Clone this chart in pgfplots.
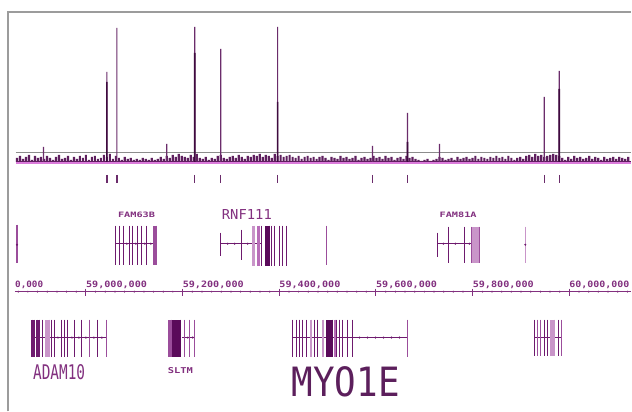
\documentclass[border=0pt]{standalone}
\usepackage{pgfplots}
\pgfplotsset{compat=1.18}
\usepackage{fontspec}
\usepackage{graphicx}
\newfontfamily\mono{DejaVu Sans Mono}
\definecolor{frameC}{HTML}{9C9C9C}
\definecolor{grayC}{HTML}{8C8C8C}
\definecolor{pinkC}{HTML}{DA7ADA}
\definecolor{noiseC}{HTML}{5E1E5E}
\definecolor{peakC}{HTML}{6B2C6B}
\definecolor{peakD}{HTML}{3F0A3F}
\definecolor{gDark}{HTML}{6E1A6E}
\definecolor{gDeep}{HTML}{5A0A5A}
\definecolor{gMid}{HTML}{9B4D9B}
\definecolor{gPink}{HTML}{B86CB8}
\definecolor{gLight}{HTML}{C995C9}
\definecolor{txtC}{HTML}{82307F}
\definecolor{txtD}{HTML}{5C1F5C}
\begin{document}
\begin{tikzpicture}
% ---------------- main frame: gene tracks, ruler, labels (pixel rows) ----------------
\begin{axis}[at={(0pt,0pt)}, anchor=south west, width=632pt, height=412pt, scale only axis,
  xmin=0, xmax=632, ymin=0, ymax=412, y dir=reverse, hide axis, clip=true,
  unbounded coords=jump]
\addplot[fill=white, draw=none] coordinates {(0,0)(632,0)(632,412)(0,412)(0,0)};
\addplot[frameC, line width=2.2pt] coordinates {(8,412)(8,12)(632,12)};
% peak call ticks
\addplot[peakC, line width=1.3pt] coordinates {(107,175)(107,183)(107,nan)(117,175)(117,183)(117,nan)(195,175)(195,183)(195,nan)(221,175)(221,183)(221,nan)(278,175)(278,183)(278,nan)(373,175)(373,183)(373,nan)(408,175)(408,183)(408,nan)(545,175)(545,183)(545,nan)(560,175)(560,183)(560,nan)};
% ---- upper gene track: introns
\addplot[gDark, line width=0.8pt] coordinates {(116,244)(157,244)(116,nan)(221,244)(262,244)(221,nan)(438,244)(480,244)};
\addplot[only marks, mark=*, mark size=0.8pt, gDark] coordinates {(17,245)(127,244)(136,244)(145,244)(151,244)(228,244)(235,244)(248,244)(444,244)(456,244)(470,244)(526,245)};
% thin exons
\addplot[gDark, line width=1.1pt] coordinates {(116,226)(116,265)(116,nan)(120,226)(120,265)(120,nan)(124,226)(124,265)(124,nan)(130,226)(130,265)(130,nan)(133,226)(133,265)(133,nan)(138,226)(138,265)(138,nan)(142,226)(142,265)(142,nan)(147,226)(147,265)(147,nan)(262,226)(262,266)(262,nan)(272,226)(272,266)(272,nan)(275,226)(275,266)(275,nan)(280,226)(280,266)(280,nan)(283,226)(283,266)(283,nan)(287,226)(287,266)(287,nan)(449,227)(449,263)(449,nan)(465,227)(465,263)(465,nan)(242,230)(242,260)(242,nan)(221,233)(221,256)(221,nan)(438,233)(438,257)(438,nan)};
\addplot[gMid, line width=1.1pt] coordinates {(17,225)(17,263)(17,nan)(327,226)(327,265)(327,nan)};
\addplot[gLight, line width=1.4pt] coordinates {(526,227)(526,263)};
% thick exons
\addplot[gMid, line width=4pt] coordinates {(155,226)(155,265)};
\addplot[gLight, line width=3pt] coordinates {(253.5,226)(253.5,266)};
\addplot[gPink, line width=3pt] coordinates {(258.5,226)(258.5,266)};
\addplot[gDeep, line width=5pt] coordinates {(267.5,226)(267.5,266)};
\addplot[gLight, line width=7pt] coordinates {(476,227)(476,263)};
\addplot[gMid, line width=1.1pt] coordinates {(472,227)(472,263)(472,nan)(480,227)(480,263)};
% ---- ruler
\addplot[txtC, line width=1.2pt] coordinates {(15,292)(632,292)};
\addplot[txtC, line width=1.1pt] coordinates {(86,289)(86,296)(86,nan)(182.8,289)(182.8,296)(182.8,nan)(279.6,289)(279.6,296)(279.6,nan)(376.4,289)(376.4,296)(376.4,nan)(473.2,289)(473.2,296)(473.2,nan)(570,289)(570,296)};
\addplot[only marks, mark=*, mark size=0.7pt, txtC] coordinates {(18.2,292)(27.9,292)(37.6,292)(47.3,292)(57.0,292)(66.6,292)(76.3,292)(95.7,292)(105.4,292)(115.1,292)(124.7,292)(134.4,292)(144.1,292)(153.8,292)(163.5,292)(173.1,292)(192.5,292)(202.2,292)(211.9,292)(221.6,292)(231.3,292)(240.9,292)(250.6,292)(260.3,292)(270.0,292)(289.3,292)(299.0,292)(308.7,292)(318.4,292)(328.1,292)(337.7,292)(347.4,292)(357.1,292)(366.8,292)(386.2,292)(395.9,292)(405.5,292)(415.2,292)(424.9,292)(434.6,292)(444.3,292)(453.9,292)(463.6,292)(483.0,292)(492.7,292)(502.3,292)(512.0,292)(521.7,292)(531.4,292)(541.1,292)(550.7,292)(560.4,292)(579.8,292)(589.5,292)(599.1,292)(608.8,292)(618.5,292)(628.2,292)};
% ---- lower gene track: introns
\addplot[gDark, line width=0.8pt] coordinates {(32,338)(107,338)(32,nan)(182,338)(195,338)(182,nan)(293,338)(408,338)(293,nan)(535,338)(562,338)};
\addplot[only marks, mark=*, mark size=0.8pt, gDark] coordinates {(58,338)(72,338)(79,338)(86,338)(94,338)(102,338)(188,338)(193,338)(360,338)(368,338)(376,338)(384,338)(392,338)(400,338)};
% thin exons
\addplot[gDark, line width=1.1pt] coordinates {(32,320)(32,357)(32,nan)(34,320)(34,357)(34,nan)(37,320)(37,357)(37,nan)(39,320)(39,357)(39,nan)(43,320)(43,357)(43,nan)(52,320)(52,357)(52,nan)(55,320)(55,357)(55,nan)(62,320)(62,357)(62,nan)(65,320)(65,357)(65,nan)(68,320)(68,357)(68,nan)(75,320)(75,357)(75,nan)(82,320)(82,357)(82,nan)(98,320)(98,357)(98,nan)(293,320)(293,357)(293,nan)(297,320)(297,357)(297,nan)(300,320)(300,357)(300,nan)(303,320)(303,357)(303,nan)(307,320)(307,357)(307,nan)(315,320)(315,357)(315,nan)(318,320)(318,357)(318,nan)(337,320)(337,357)(337,nan)(340,320)(340,357)(340,nan)(343,320)(343,357)(343,nan)(348,320)(348,357)(348,nan)(353,320)(353,357)(353,nan)(535,320)(535,356)(535,nan)(545,320)(545,356)(545,nan)(548,320)(548,356)(548,nan)(559,320)(559,356)};
\addplot[gMid, line width=1.1pt] coordinates {(90,320)(90,357)(90,nan)(107,320)(107,357)(107,nan)(185,320)(185,357)(185,nan)(190,320)(190,357)(190,nan)(195,320)(195,357)(195,nan)(408,320)(408,357)(408,nan)(538,320)(538,356)(538,nan)(541,320)(541,356)(541,nan)(562,320)(562,356)};
% thick exons
\addplot[gLight, line width=5pt] coordinates {(47.5,320)(47.5,357)};
\addplot[gMid, line width=4pt] coordinates {(170,320)(170,357)};
\addplot[gDeep, line width=9pt] coordinates {(177,320)(177,357)};
\addplot[gLight, line width=2pt] coordinates {(311.5,320)(311.5,357)(311.5,nan)(323,320)(323,357)};
\addplot[gDeep, line width=7pt] coordinates {(330,320)(330,357)};
\addplot[gPink, line width=2pt] coordinates {(335,320)(335,357)};
\addplot[gLight, line width=5pt] coordinates {(553.5,320)(553.5,356)};
% ---- labels
\node[anchor=base west, inner sep=0pt, text=txtC] at (axis cs:118,218) {\resizebox{37pt}{5.5pt}{\mono\bfseries FAM63B}};
\node[anchor=base west, inner sep=0pt, text=txtC] at (axis cs:222,220) {\resizebox{50pt}{10pt}{\mono RNF111}};
\node[anchor=base west, inner sep=0pt, text=txtC] at (axis cs:440,218) {\resizebox{37pt}{5.5pt}{\mono\bfseries FAM81A}};
\node[anchor=base west, inner sep=0pt, text=txtC] at (axis cs:15,288) {\resizebox{28pt}{6.5pt}{\mono\bfseries 0,000}};
\node[anchor=base west, inner sep=0pt, text=txtC] at (axis cs:86,288) {\resizebox{61pt}{6.5pt}{\mono\bfseries 59,000,000}};
\node[anchor=base west, inner sep=0pt, text=txtC] at (axis cs:182.8,288) {\resizebox{61pt}{6.5pt}{\mono\bfseries 59,200,000}};
\node[anchor=base west, inner sep=0pt, text=txtC] at (axis cs:279.6,288) {\resizebox{61pt}{6.5pt}{\mono\bfseries 59,400,000}};
\node[anchor=base west, inner sep=0pt, text=txtC] at (axis cs:376.4,288) {\resizebox{61pt}{6.5pt}{\mono\bfseries 59,600,000}};
\node[anchor=base west, inner sep=0pt, text=txtC] at (axis cs:473.2,288) {\resizebox{61pt}{6.5pt}{\mono\bfseries 59,800,000}};
\node[anchor=base west, inner sep=0pt, text=txtC] at (axis cs:570,288) {\resizebox{60pt}{6.5pt}{\mono\bfseries 60,000,000}};
\node[anchor=base west, inner sep=0pt, text=txtC] at (axis cs:33,380) {\resizebox{52pt}{15pt}{\mono ADAM10}};
\node[anchor=base west, inner sep=0pt, text=txtC] at (axis cs:168,374) {\resizebox{25pt}{6pt}{\mono\bfseries SLTM}};
\node[anchor=base west, inner sep=0pt, text=txtD] at (axis cs:292,397) {\resizebox{108pt}{30pt}{\mono MYO1E}};
\end{axis}
% ---------------- signal track ----------------
\begin{axis}[at={(0pt,250pt)}, anchor=south west, width=632pt, height=150pt, scale only axis,
  xmin=0, xmax=632, ymin=0, ymax=150, hide axis, clip=false]
\addplot[grayC, line width=0.9pt] coordinates {(16,9)(632,9)};
\addplot[pinkC, line width=1.6pt] coordinates {(16,-1.5)(632,-1.5)};
\addplot[noiseC, line width=1.2pt] coordinates {(16,0.6)(632,0.6)};
\addplot[ybar, bar width=2.2pt, bar shift=0pt, fill=noiseC, draw=none] table[row sep=\\, x=x, y=h] {
x h\\
17 4\\ 20 6\\ 23 3\\ 26 5\\ 29 7\\ 32 2\\ 35 6\\ 38 4\\ 41 5\\ 44 3\\
47 6\\ 50 4\\ 53 2\\ 56 5\\ 59 7\\ 62 3\\ 65 4\\ 68 6\\ 71 2\\ 74 5\\
77 3\\ 80 6\\ 83 4\\ 86 7\\ 89 2\\ 92 5\\ 95 6\\ 98 3\\ 101 4\\ 104 7\\
107 5\\ 110 8\\ 113 3\\ 116 6\\ 119 4\\ 122 2\\ 125 5\\ 128 3\\ 131 4\\ 134 2\\
137 3\\ 140 2\\ 143 4\\ 146 3\\ 149 2\\ 152 4\\ 155 2\\ 158 3\\ 161 5\\ 164 3\\
167 6\\ 170 4\\ 173 7\\ 176 5\\ 179 8\\ 182 6\\ 185 5\\ 188 4\\ 191 7\\ 194 5\\
197 8\\ 200 4\\ 203 3\\ 206 5\\ 209 2\\ 212 4\\ 215 3\\ 218 6\\ 221 7\\ 224 4\\
227 3\\ 230 5\\ 233 6\\ 236 4\\ 239 7\\ 242 5\\ 245 3\\ 248 6\\ 251 5\\ 254 7\\
257 6\\ 260 8\\ 263 5\\ 266 7\\ 269 6\\ 272 4\\ 275 8\\ 278 6\\ 281 7\\ 284 5\\
287 6\\ 290 7\\ 293 5\\ 296 4\\ 299 6\\ 302 3\\ 305 5\\ 308 6\\ 311 4\\ 314 5\\
317 3\\ 320 5\\ 323 6\\ 326 4\\ 329 2\\ 332 5\\ 335 4\\ 338 3\\ 341 6\\ 344 4\\
347 5\\ 350 3\\ 353 4\\ 356 6\\ 359 2\\ 362 4\\ 365 5\\ 368 3\\ 371 4\\ 374 6\\
377 4\\ 380 5\\ 383 3\\ 386 6\\ 389 4\\ 392 5\\ 395 2\\ 398 4\\ 401 5\\ 404 3\\
407 6\\ 410 4\\ 413 5\\ 416 3\\ 419 2\\ 422 1\\ 425 2\\ 428 3\\ 431 1\\ 434 2\\
437 3\\ 440 5\\ 443 4\\ 446 2\\ 449 3\\ 452 4\\ 455 2\\ 458 5\\ 461 3\\ 464 4\\
467 5\\ 470 3\\ 473 4\\ 476 6\\ 479 3\\ 482 5\\ 485 4\\ 488 3\\ 491 5\\ 494 4\\
497 6\\ 500 4\\ 503 5\\ 506 3\\ 509 6\\ 512 4\\ 515 2\\ 518 4\\ 521 5\\ 524 3\\
527 6\\ 530 7\\ 533 5\\ 536 8\\ 539 6\\ 542 7\\ 545 5\\ 548 6\\ 551 7\\ 554 8\\
557 7\\ 560 6\\ 563 4\\ 566 2\\ 569 5\\ 572 3\\ 575 6\\ 578 4\\ 581 5\\ 584 3\\
587 4\\ 590 6\\ 593 3\\ 596 5\\ 599 4\\ 602 2\\ 605 5\\ 608 3\\ 611 4\\ 614 5\\
617 3\\ 620 5\\ 623 4\\ 626 3\\ 629 5\\
};
\addplot[ybar, bar width=1.2pt, bar shift=0pt, fill=peakC, draw=none] coordinates {(43.5,15)(107,90)(117,134)(167,18)(195,135)(221,113)(278,135)(373,16)(408,49)(440,18)(545,65)(560,91)};
\addplot[ybar, bar width=1.6pt, bar shift=0pt, fill=peakD, draw=none] coordinates {(107,80)(195,109)(278,60)(408,20)(560,73)};
\end{axis}
\end{tikzpicture}
\end{document}
